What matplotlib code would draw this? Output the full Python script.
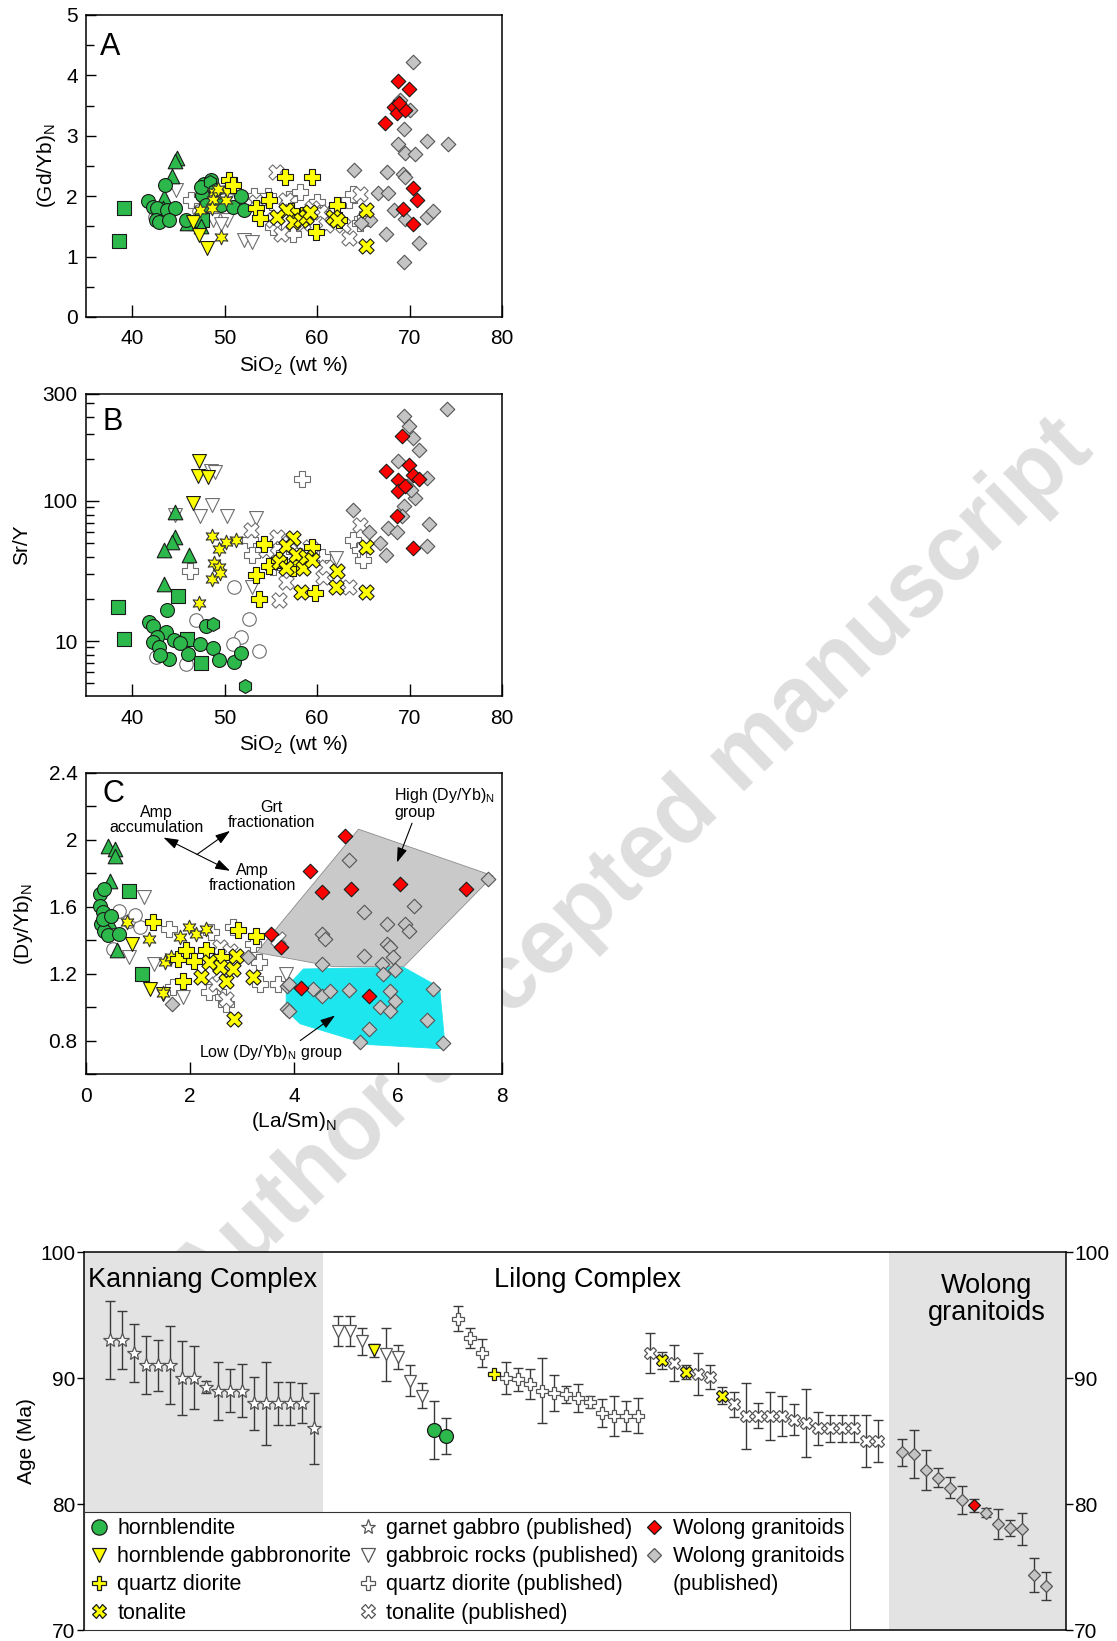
import numpy as np
import matplotlib.pyplot as plt
from matplotlib.patches import Polygon
from matplotlib.lines import Line2D

plt.rcParams['font.family'] = ['Liberation Sans', 'DejaVu Sans']
plt.rcParams['mathtext.default'] = 'regular'

# ---------------- panel A: SiO2 vs (Gd/Yb)N ----------------
a_hbl = [(41.7, 1.92), (42.2, 1.82), (42.7, 1.81), (43.5, 2.18), (43.8, 1.77), (44.6, 1.81),
         (42.6, 1.60), (42.9, 1.57), (44.0, 1.61), (45.8, 1.60), (47.8, 2.21), (48.5, 2.27),
         (47.6, 2.02), (48.0, 1.85), (49.6, 1.85), (50.9, 1.82), (51.8, 2.00), (52.1, 1.77),
         (47.4, 2.15)]
a_gtri = [(44.8, 2.64), (44.6, 2.58), (44.3, 2.33), (43.4, 1.98), (43.3, 1.80), (45.9, 1.56), (47.4, 1.50)]
a_gsq = [(39.1, 1.80), (38.6, 1.26), (46.8, 1.55), (47.5, 1.60)]
a_ghex = [(48.4, 2.24), (49.0, 2.10)]
a_ocirc = [(42.5, 1.65), (43.0, 1.70), (47.2, 1.75), (51.0, 1.90)]
a_hgn = [(46.6, 1.57), (47.2, 1.35), (48.1, 1.15)]
a_ystar = [(47.3, 1.77), (48.9, 2.07), (48.7, 1.93), (48.6, 1.81), (50.1, 1.93), (49.6, 1.33),
           (50.2, 2.10), (49.3, 2.12)]
a_ov = [(44.7, 2.10), (48.7, 1.60), (50.3, 1.60), (52.1, 1.27), (53.0, 1.24), (49.6, 1.54)]
a_op = [(46.4, 1.93), (53.2, 2.00), (54.7, 2.00), (58.1, 2.07), (54.5, 1.73), (57.4, 1.38),
        (63.5, 1.93), (63.9, 2.04), (64.9, 1.63), (64.6, 1.55), (55.2, 1.49), (57.0, 1.95),
        (60.0, 1.90), (61.5, 1.70)]
a_ox = [(55.6, 2.40), (53.4, 1.90), (56.6, 1.93), (55.2, 1.60), (56.1, 1.38), (60.3, 1.74),
        (61.0, 1.52), (63.5, 1.30), (64.6, 2.04), (62.8, 1.52), (58.5, 1.55), (59.5, 1.80)]
a_qd = [(56.5, 2.32), (59.5, 2.32), (50.5, 2.26), (50.9, 2.18), (53.4, 1.80), (53.8, 1.64),
        (54.8, 1.93), (59.9, 1.41), (62.1, 1.85), (62.4, 1.60), (58.5, 1.69), (57.2, 1.75)]
a_ton = [(56.6, 1.77), (55.7, 1.65), (57.4, 1.57), (58.3, 1.60), (58.8, 1.65), (61.7, 1.65),
         (62.2, 1.60), (65.3, 1.77), (65.3, 1.17), (59.2, 1.74)]
a_red = [(68.8, 3.90), (69.9, 3.78), (68.3, 3.48), (68.6, 3.37), (69.5, 3.43), (67.3, 3.22),
         (68.9, 3.55), (70.4, 2.13), (70.8, 1.93), (69.3, 1.78), (70.4, 1.54)]
a_gray = [(70.4, 4.22), (69.0, 3.59), (70.0, 3.43), (69.35, 3.12), (68.8, 2.86), (69.5, 2.71),
          (70.6, 2.70), (71.9, 2.92), (74.2, 2.87), (64.0, 2.44), (67.6, 2.40), (66.6, 2.06),
          (67.7, 2.06), (69.3, 2.36), (69.5, 2.32), (68.3, 1.77), (69.5, 1.63), (71.9, 1.66),
          (72.5, 1.76), (67.4, 1.38), (71.0, 1.22), (69.35, 0.91), (65.7, 1.60), (64.7, 1.55)]

# ---------------- panel B: SiO2 vs Sr/Y ----------------
b_hbl = [(43.75, 16.6), (41.8, 13.7), (42.2, 12.9), (43.6, 11.6), (42.7, 10.7), (42.2, 9.85),
         (44.55, 10.1), (42.85, 9.06), (44.0, 7.46), (46.0, 8.1), (47.3, 9.47), (48.7, 8.96),
         (49.4, 7.27), (51.05, 7.07), (51.8, 8.2), (48.0, 12.7), (43.0, 8.0), (45.2, 9.7)]
b_gtri = [(44.6, 83), (44.65, 55.7), (44.3, 50.5), (43.4, 44.7), (46.1, 41.2), (43.4, 25.5)]
b_gsq = [(38.5, 17.5), (39.1, 10.3), (45.0, 20.9), (45.9, 10.3), (47.4, 6.95)]
b_ghex = [(52.2, 4.75), (48.7, 13.3)]
b_ocirc = [(51.05, 24.2), (52.6, 14.3), (51.8, 10.7), (53.75, 8.5), (46.9, 14.1), (42.6, 7.7),
           (45.8, 6.9), (50.9, 9.55)]
b_hgn = [(47.2, 193), (47.1, 150), (48.2, 149), (46.6, 96.8)]
b_ov = [(48.5, 163), (48.6, 94), (47.3, 77.6), (50.3, 77.6), (53.4, 75.5), (44.65, 79.8),
        (53.0, 24.4), (62.0, 39.0), (49.0, 160)]
b_ystar = [(48.6, 56.4), (51.2, 52.7), (50.1, 51.3), (49.4, 45.2), (48.85, 35.9), (49.4, 34),
           (48.6, 27.5), (49.5, 30.8), (47.2, 18.8)]
b_op = [(46.2, 31.8), (58.4, 144), (52.7, 52.7), (53.0, 41.2), (55.2, 34), (63.9, 52.7),
        (64.6, 44.8), (65.0, 38), (55.2, 46.8), (57.5, 44), (60.5, 40)]
b_ox = [(52.85, 62.2), (55.7, 55.7), (55.9, 19.6), (56.6, 26.5), (59.2, 46.8), (60.6, 28.5),
        (63.5, 24.2), (64.6, 67.6), (54.5, 44.8), (57.0, 50), (61.0, 34)]
b_qd = [(54.3, 49.4), (53.4, 29.6), (53.7, 20), (54.8, 34.3), (57.4, 33), (59.8, 21.9),
        (59.5, 46.8), (55.9, 38), (58.0, 36)]
b_ton = [(57.4, 54.2), (56.6, 47.3), (57.7, 41.2), (58.45, 33), (55.9, 36.9), (58.8, 40.1),
         (58.3, 22.5), (62.06, 24.2), (62.1, 31.6), (65.3, 22.5), (65.3, 46.8), (56.6, 33),
         (59.5, 38)]
b_red = [(69.2, 291), (67.4, 163), (68.8, 142), (69.9, 182), (70.4, 154), (71.0, 144),
         (68.8, 117), (69.5, 127), (68.6, 77.6), (70.4, 46)]
b_gray = [(74.0, 452), (69.35, 405), (69.9, 343), (70.4, 283), (71.0, 231), (68.8, 193),
          (71.9, 146), (70.6, 105), (69.35, 91.6), (69.2, 77.6), (72.1, 68.7), (71.9, 47.3),
          (63.9, 86.7), (65.6, 59.6), (66.8, 50.0), (67.4, 41.2), (67.7, 64), (68.6, 60.5),
          (69.7, 127), (70.2, 120)]

# ---------------- panel C: (La/Sm)N vs (Dy/Yb)N ----------------
c_hbl = [(0.26, 1.676), (0.35, 1.705), (0.26, 1.606), (0.32, 1.566), (0.29, 1.497), (0.35, 1.457),
         (0.42, 1.433), (0.64, 1.437), (0.32, 1.527), (0.48, 1.546)]
c_gtri = [(0.42, 1.964), (0.55, 1.944), (0.56, 1.905), (0.46, 1.755), (0.45, 1.512), (0.59, 1.343)]
c_gsq = [(0.83, 1.696), (1.08, 1.198)]
c_ocirc = [(0.64, 1.576), (0.82, 1.516), (0.51, 1.347), (1.03, 1.477), (0.95, 1.55)]
c_hgn = [(0.885, 1.377), (1.23, 1.108), (1.49, 1.079)]
c_ov = [(1.12, 1.656), (0.83, 1.298), (1.31, 1.258), (1.86, 1.059), (3.84, 1.198)]
c_ystar = [(0.78, 1.506), (1.22, 1.407), (1.51, 1.268), (1.475, 1.083), (1.99, 1.477),
           (1.81, 1.417), (2.12, 1.437), (2.31, 1.467), (1.64, 1.297)]
c_qd = [(1.28, 1.506), (1.76, 1.288), (1.87, 1.154), (3.27, 1.427), (2.92, 1.46), (1.92, 1.341),
        (2.31, 1.341), (2.08, 1.278), (2.6, 1.30)]
c_ton = [(2.21, 1.178), (2.57, 1.24), (2.69, 1.158), (2.82, 1.228), (2.89, 1.307), (3.21, 1.178),
         (2.84, 0.929), (2.37, 1.268)]
c_op = [(1.6, 1.467), (2.4, 1.447), (2.82, 1.477), (3.21, 1.377), (3.32, 1.268), (3.34, 1.138),
        (2.36, 1.089), (2.63, 1.059), (1.67, 1.118), (3.69, 1.138), (2.69, 1.019)]
c_ox = [(2.57, 1.357), (2.76, 1.337), (2.5, 1.138), (3.69, 1.407), (2.57, 1.198), (2.7, 1.05)]
c_red = [(4.98, 2.024), (4.31, 1.811), (4.53, 1.686), (5.09, 1.706), (6.04, 1.739), (7.31, 1.706),
         (3.55, 1.437), (3.75, 1.361), (4.14, 1.112), (5.45, 1.069)]
c_gray = [(5.05, 1.879), (7.74, 1.765), (6.3, 1.606), (5.34, 1.566), (5.79, 1.497), (6.14, 1.50),
          (6.22, 1.457), (4.53, 1.437), (4.6, 1.407), (5.79, 1.377), (5.85, 1.357), (5.34, 1.307),
          (5.91, 1.297), (4.53, 1.258), (5.69, 1.258), (5.95, 1.222), (5.72, 1.198), (3.86, 1.128),
          (4.36, 1.108), (4.53, 1.069), (4.7, 1.099), (5.05, 1.102), (5.85, 1.099), (5.66, 0.999),
          (5.85, 0.979), (5.95, 1.039), (6.68, 1.108), (3.86, 0.989), (5.45, 0.87), (6.56, 0.923),
          (5.27, 0.794), (6.86, 0.784), (1.65, 1.019), (3.11, 1.297), (3.91, 1.138), (3.9, 0.979)]
c_high_group = [(3.28, 1.327), (5.24, 2.064), (7.83, 1.785), (6.11, 1.242), (4.76, 1.242)]
c_low_group = [(4.18, 1.228), (6.11, 1.238), (6.8, 1.118), (6.91, 0.750), (5.43, 0.776),
               (4.12, 0.90), (3.85, 0.979), (3.85, 1.118)]

# ---------------- panel D: ages (Ma) with 2-sigma errors ----------------
kan_age = [93.0, 93.0, 92.0, 91.0, 91.0, 91.0, 90.0, 90.0, 89.3, 89.0, 89.0, 89.0,
           88.0, 88.0, 88.0, 88.0, 88.0, 86.0]
kan_err = [3.1, 2.3, 2.3, 2.3, 2.0, 3.1, 2.9, 2.5, 0.5, 2.3, 1.7, 2.1, 2.1, 3.3, 1.7, 1.7, 1.6, 2.8]
gab_age = [93.7, 93.7, 92.9, 92.2, 91.9, 91.7, 89.8, 88.6]
gab_err = [1.2, 1.2, 1.05, 0.5, 2.1, 0.95, 1.25, 1.0]
gab_new = [False, False, False, True, False, False, False, False]
hbl_age = [85.9, 85.4]
hbl_err = [2.3, 1.4]
qd_age = [94.7, 93.2, 92.0, 90.35, 90.0, 89.9, 89.55, 89.0, 88.8, 88.7, 88.4, 88.1,
          87.2, 87.0, 87.0, 87.0]
qd_err = [1.0, 0.8, 1.1, 0.15, 1.3, 0.9, 1.2, 2.6, 1.45, 0.65, 1.1, 0.5, 1.1, 1.6, 1.2, 1.4]
qd_new = [False, False, False, True] + [False] * 12
ton_age = [92.0, 91.4, 91.2, 90.5, 90.3, 90.1, 88.6, 87.9, 87.0, 87.0, 87.0, 87.0,
           86.7, 86.4, 86.0, 86.0, 86.0, 86.0, 85.0, 85.0]
ton_err = [1.6, 0.7, 1.4, 0.55, 1.65, 0.95, 0.65, 1.0, 2.6, 1.0, 1.9, 1.6,
           1.2, 2.7, 1.3, 1.1, 1.1, 1.1, 2.1, 1.7]
ton_new = [False, True, False, True, False, False, True] + [False] * 13
wol_age = [84.1, 84.0, 82.7, 82.1, 81.3, 80.3, 79.9, 79.3, 78.4, 78.1, 78.0, 74.4, 73.5]
wol_err = [1.05, 1.9, 1.6, 0.75, 0.85, 1.1, 0.5, 0.35, 1.2, 0.6, 1.25, 1.35, 1.1]
wol_new = [False] * 6 + [True] + [False] * 6

# sample order along the age plot
kan_no = np.arange(1, 19)
gab_no = np.arange(20, 28)
hbl_no = np.arange(28, 30)
qd_no = np.arange(30, 46)
ton_no = np.arange(46, 66)
wol_no = np.arange(67, 80)

GREEN = '#2db84b'
YELLOW = '#ffff00'
RED = '#ff0000'
GRAY = '#c4c4c4'
OPEN_EDGE = '#6e6e6e'
STAR6 = (6, 1, 0)

styles = {
    'ocirc': dict(marker='o', s=95, fc='white', ec=OPEN_EDGE),
    'ov': dict(marker='v', s=100, fc='white', ec=OPEN_EDGE),
    'op': dict(marker='P', s=120, fc='white', ec=OPEN_EDGE),
    'ox': dict(marker='X', s=120, fc='white', ec=OPEN_EDGE),
    'gray': dict(marker='D', s=55, fc=GRAY, ec='#555555'),
    'gsq': dict(marker='s', s=110, fc=GREEN, ec='#1a1a1a'),
    'gtri': dict(marker='^', s=110, fc=GREEN, ec='#1a1a1a'),
    'hbl': dict(marker='o', s=100, fc=GREEN, ec='#1a1a1a'),
    'ghex': dict(marker='h', s=100, fc=GREEN, ec='#1a1a1a'),
    'hgn': dict(marker='v', s=100, fc=YELLOW, ec='#1a1a1a'),
    'ystar': dict(marker=STAR6, s=110, fc=YELLOW, ec='#333333'),
    'qd': dict(marker='P', s=120, fc=YELLOW, ec='#1a1a1a'),
    'ton': dict(marker='X', s=120, fc=YELLOW, ec='#1a1a1a'),
    'red': dict(marker='D', s=55, fc=RED, ec='#1a1a1a'),
}
order = ['ocirc', 'ov', 'op', 'ox', 'gray', 'gsq', 'gtri', 'hbl', 'ghex', 'hgn', 'ystar',
         'qd', 'ton', 'red']

panel_a = dict(ocirc=a_ocirc, ov=a_ov, op=a_op, ox=a_ox, gray=a_gray, gsq=a_gsq, gtri=a_gtri,
               hbl=a_hbl, ghex=a_ghex, hgn=a_hgn, ystar=a_ystar, qd=a_qd, ton=a_ton, red=a_red)
panel_b = dict(ocirc=b_ocirc, ov=b_ov, op=b_op, ox=b_ox, gray=b_gray, gsq=b_gsq, gtri=b_gtri,
               hbl=b_hbl, ghex=b_ghex, hgn=b_hgn, ystar=b_ystar, qd=b_qd, ton=b_ton, red=b_red)
panel_c = dict(ocirc=c_ocirc, ov=c_ov, op=c_op, ox=c_ox, gray=c_gray, gsq=c_gsq, gtri=c_gtri,
               hbl=c_hbl, hgn=c_hgn, ystar=c_ystar, qd=c_qd, ton=c_ton, red=c_red)


def scatter_panel(ax, pts):
    for i, key in enumerate(order):
        if key not in pts:
            continue
        xy = np.array(pts[key])
        st = styles[key]
        ax.scatter(xy[:, 0], xy[:, 1], marker=st['marker'], s=st['s'], facecolors=st['fc'],
                   edgecolors=st['ec'], linewidths=0.8, zorder=3 + i * 0.1)


def style_axes(ax):
    for sp in ax.spines.values():
        sp.set_linewidth(1.1)
    ax.tick_params(which='both', direction='in', top=False, right=False, labelsize=15,
                   width=1.0, pad=6)
    ax.tick_params(axis='x', which='both', pad=9)
    ax.tick_params(axis='x', which='major', length=9)
    ax.tick_params(axis='y', which='major', length=7)
    ax.tick_params(axis='y', which='minor', length=6)


fig = plt.figure(figsize=(11.17, 16.41), dpi=100)

# watermark behind everything
fig.text(0.566, 0.472, 'Author accepted manuscript', rotation=44, fontsize=66,
         fontweight='bold', color='#dedede', ha='center', va='center', zorder=-5)

W, H = 1117, 1641


def add_ax(left, top, right, bottom):
    return fig.add_axes([left / W, 1 - bottom / H, (right - left) / W, (bottom - top) / H])


# ----- A -----
axa = add_ax(86, 15, 502, 317)
scatter_panel(axa, panel_a)
axa.set_xlim(35, 80)
axa.set_ylim(0, 5)
axa.set_xticks([40, 50, 60, 70, 80])
axa.set_yticks([0, 1, 2, 3, 4, 5])
axa.set_yticks(np.arange(0.5, 5, 1.0), minor=True)
style_axes(axa)
axa.set_xlabel('SiO$_2$ (wt %)', fontsize=15, labelpad=4)
axa.set_ylabel('(Gd/Yb)$_N$', fontsize=15, labelpad=6)
axa.text(0.034, 0.868, 'A', transform=axa.transAxes, fontsize=22)

# ----- B -----
axb = add_ax(86, 394, 502, 696)
scatter_panel(axb, panel_b)
axb.set_yscale('log')
axb.set_xlim(35, 80)
axb.set_ylim(4.05, 580)
axb.set_xticks([40, 50, 60, 70, 80])
axb.set_yticks([10, 100, 580])
axb.set_yticklabels(['10', '100', '300'])
axb.set_yticks([5, 6, 7, 8, 9, 20, 30, 40, 50, 60, 70, 80, 90, 200, 300, 400, 500], minor=True)
axb.yaxis.set_minor_formatter(plt.NullFormatter())
style_axes(axb)
axb.tick_params(axis='y', which='major', length=9)
axb.tick_params(axis='y', which='minor', length=6)
axb.set_xlabel('SiO$_2$ (wt %)', fontsize=15, labelpad=4)
axb.set_ylabel('Sr/Y', fontsize=15, labelpad=8)
axb.text(0.039, 0.881, 'B', transform=axb.transAxes, fontsize=22)

# ----- C -----
axc = add_ax(86, 773, 502, 1074)
axc.add_patch(Polygon(c_high_group, closed=True, fc='#c9c9c9', ec='#8c8c8c', lw=0.6, zorder=1))
axc.add_patch(Polygon(c_low_group, closed=True, fc='#1ee6ee', ec='#1ee6ee', lw=0.6, zorder=1))
scatter_panel(axc, panel_c)
axc.set_xlim(0, 8)
axc.set_ylim(0.6, 2.4)
axc.set_xticks([0, 2, 4, 6, 8])
axc.set_yticks([0.8, 1.2, 1.6, 2.0, 2.4])
axc.set_yticklabels(['0.8', '1.2', '1.6', '2', '2.4'])
axc.set_yticks([0.6, 1.0, 1.4, 1.8, 2.2], minor=True)
style_axes(axc)
axc.tick_params(axis='y', which='minor', length=7)
axc.set_xlabel('(La/Sm)$_N$', fontsize=15, labelpad=3)
axc.set_ylabel('(Dy/Yb)$_N$', fontsize=15, labelpad=10)
axc.text(0.039, 0.904, 'C', transform=axc.transAxes, fontsize=22)

arrow_kw = dict(arrowstyle='-|>,head_length=0.9,head_width=0.3', color='black', lw=0.8,
                shrinkA=0, shrinkB=0)
axc.annotate('', xy=(1.49, 2.014), xytext=(2.77, 1.815),
             arrowprops=dict(arrowstyle='<|-|>,head_length=0.9,head_width=0.3', color='black',
                             lw=0.8, shrinkA=0, shrinkB=0), zorder=5)
axc.annotate('', xy=(2.77, 2.054), xytext=(2.13, 1.912), arrowprops=arrow_kw, zorder=5)
axc.text(1.35, 2.12, 'Amp\naccumulation', fontsize=11.5, ha='center', va='center',
         linespacing=1.0, zorder=6)
axc.text(3.57, 2.15, 'Grt\nfractionation', fontsize=11.5, ha='center', va='center',
         linespacing=1.0, zorder=6)
axc.text(3.2, 1.77, 'Amp\nfractionation', fontsize=11.5, ha='center', va='center',
         linespacing=1.0, zorder=6)
axc.text(5.93, 2.22, 'High (Dy/Yb)$_N$\ngroup', fontsize=11.5, ha='left', va='center',
         linespacing=1.0, zorder=6)
axc.annotate('', xy=(5.98, 1.865), xytext=(6.27, 2.10), arrowprops=arrow_kw, zorder=5)
axc.text(3.56, 0.73, 'Low (Dy/Yb)$_N$ group', fontsize=11.5, ha='center', va='center', zorder=6)
axc.annotate('', xy=(4.79, 0.95), xytext=(4.12, 0.80), arrowprops=arrow_kw, zorder=5)

# ----- D: ages -----
axd = add_ax(84, 1252, 1066, 1630)
xmin, xmax = -1.125, 80.7
axd.set_xlim(xmin, xmax)
axd.set_ylim(70, 100)
axd.axvspan(xmin, 18.8, color='#e3e3e3', zorder=0, lw=0)
axd.axvspan(65.97, xmax, color='#e3e3e3', zorder=0, lw=0)

eb_kw = dict(fmt='none', ecolor='#3a3a3a', elinewidth=1.0, capsize=3.5, capthick=1.0, zorder=2)


def age_group(no, age, err, new, marker, ms, new_fc, old_fc, old_ec):
    no = np.asarray(no)
    age = np.asarray(age)
    axd.errorbar(no, age, yerr=err, **eb_kw)
    new = np.asarray(new)
    axd.plot(no[~new], age[~new], ls='none', marker=marker, ms=ms, mfc=old_fc, mec=old_ec,
             mew=0.9, zorder=3)
    if new.any():
        axd.plot(no[new], age[new], ls='none', marker=marker, ms=ms, mfc=new_fc, mec='#1a1a1a',
                 mew=0.9, zorder=4)


age_group(kan_no, kan_age, kan_err, [False] * 18, '*', 10, 'white', 'white', '#555555')
age_group(gab_no, gab_age, gab_err, gab_new, 'v', 8, YELLOW, 'white', '#555555')
age_group(hbl_no, hbl_age, hbl_err, [True, True], 'o', 10, GREEN, GREEN, '#1a1a1a')
age_group(qd_no, qd_age, qd_err, qd_new, 'P', 8.5, YELLOW, 'white', '#555555')
age_group(ton_no, ton_age, ton_err, ton_new, 'X', 8.5, YELLOW, 'white', '#555555')
age_group(wol_no, wol_age, wol_err, wol_new, 'D', 6.3, RED, GRAY, '#555555')

axd.set_xticks([])
axd.set_yticks([70, 80, 90, 100])
axd.tick_params(axis='y', direction='out', length=5, width=1.0, labelsize=15, pad=1,
                left=True, right=True, labelleft=True, labelright=True)
axd.tick_params(axis='y', which='major', labelright=True)
for lbl in axd.get_yticklabels(which='major'):
    pass
for sp in axd.spines.values():
    sp.set_linewidth(1.1)
axd.set_ylabel('Age (Ma)', fontsize=15, labelpad=3)

axd.text(0.004, 0.907, 'Kanniang Complex', transform=axd.transAxes, fontsize=19.5,
         ha='left', va='baseline')
axd.text(0.513, 0.907, 'Lilong Complex', transform=axd.transAxes, fontsize=19.5,
         ha='center', va='baseline')
axd.text(0.9196, 0.944, 'Wolong\ngranitoids', transform=axd.transAxes, fontsize=19.5,
         ha='center', va='top', linespacing=1.05)


# legend
def h(marker, fc, ec, ms):
    return Line2D([], [], ls='none', marker=marker, ms=ms, mfc=fc, mec=ec, mew=0.9)


handles = [h('o', GREEN, '#1a1a1a', 11), h('v', YELLOW, '#1a1a1a', 10),
           h('P', YELLOW, '#1a1a1a', 10), h('X', YELLOW, '#1a1a1a', 10),
           h('*', 'white', '#555555', 11), h('v', 'white', '#555555', 10),
           h('P', 'white', '#555555', 10), h('X', 'white', '#555555', 10),
           h('D', RED, '#1a1a1a', 7.5), h('D', GRAY, '#555555', 7.5),
           Line2D([], [], ls='none')]
labels = ['hornblendite', 'hornblende gabbronorite', 'quartz diorite', 'tonalite',
          'garnet gabbro (published)', 'gabbroic rocks (published)',
          'quartz diorite (published)', 'tonalite (published)',
          'Wolong granitoids', 'Wolong granitoids', '(published)']
leg = axd.legend(handles, labels, ncol=3, loc='lower left', bbox_to_anchor=(0, 0),
                 borderaxespad=0, fontsize=15.5, frameon=True, fancybox=False,
                 edgecolor='#333333', framealpha=1, handlelength=0.8, handletextpad=0.45,
                 columnspacing=0.35, labelspacing=0.33, borderpad=0.3)
leg.get_frame().set_linewidth(0.8)
leg.set_zorder(6)

fig.savefig('out.png', dpi=100)
